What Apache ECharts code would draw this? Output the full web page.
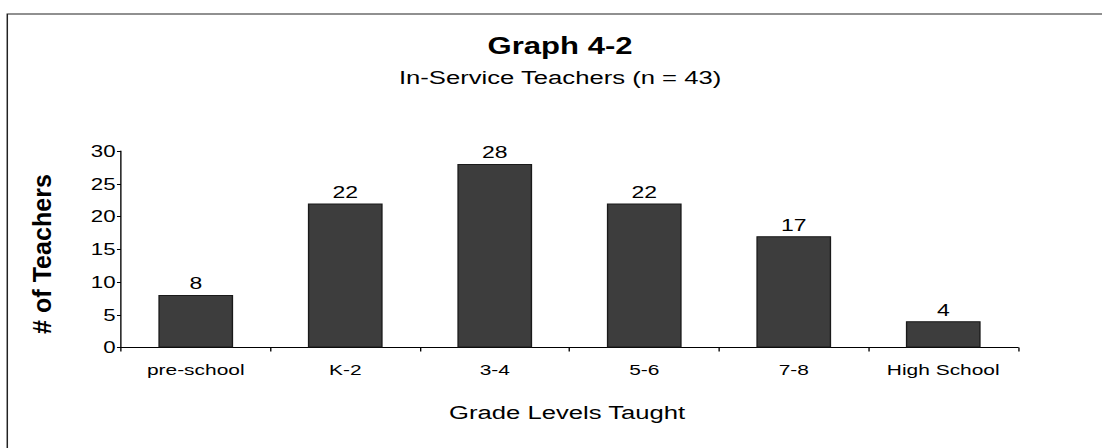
<!DOCTYPE html>
<html>
<head>
<meta charset="utf-8">
<title>Graph 4-2</title>
<script src="https://cdn.jsdelivr.net/npm/echarts@6/dist/echarts.min.js"></script>
<style>
html, body { margin: 0; padding: 0; background: #fff; overflow: hidden; }
/* the scan is stretched sideways, so the chart is drawn narrow and widened */
#graphMain { width: 816px; height: 448px; transform: scaleX(1.3505); transform-origin: 0 0; }
</style>
</head>
<body>
<div id="graphMain"></div>
<script>
// data
var grades = ['pre-school', 'K-2', '3-4', '5-6', '7-8', 'High School'];
var teachers = [8, 22, 28, 22, 17, 4];
var yTicks = [0, 5, 10, 15, 20, 25, 30];

var FONT = '"Liberation Sans", Arial, Helvetica, sans-serif';

function drawGraph(){
	var myChart = echarts.init(document.getElementById('graphMain'), null, {renderer: 'svg'});
	var option = {
		animation: false,
		backgroundColor: '#fff',
		graphic: [
			{
				type: 'rect',
				shape: {x: 5.4, y: 14, width: 900, height: 500},
				style: {fill: 'none', stroke: '#222', lineWidth: 1.1},
				silent: true
			},
			{
				type: 'text',
				x: 414.7, y: 46,
				style: {text: 'Graph 4-2', fill: '#000', font: 'bold 23px ' + FONT,
					align: 'center', verticalAlign: 'middle', textAlign: 'center', textVerticalAlign: 'middle'}
			},
			{
				type: 'text',
				x: 414.7, y: 78,
				style: {text: 'In-Service Teachers (n = 43)', fill: '#000', font: '19px ' + FONT,
					align: 'center', verticalAlign: 'middle', textAlign: 'center', textVerticalAlign: 'middle'}
			},
			{
				type: 'text',
				x: 31.1, y: 254, rotation: Math.PI / 2, scaleX: 1.32,
				style: {text: '# of Teachers', fill: '#000', font: 'bold 19px ' + FONT,
					align: 'center', verticalAlign: 'middle', textAlign: 'center', textVerticalAlign: 'middle'}
			},
			{
				type: 'text',
				x: 419.9, y: 413,
				style: {text: 'Grade Levels Taught', fill: '#000', font: '19px ' + FONT,
					align: 'center', verticalAlign: 'middle', textAlign: 'center', textVerticalAlign: 'middle'}
			}
		],
		grid: {left: 89.6, right: 62.2, top: 151, bottom: 100.5, containLabel: false},
		xAxis: {
			type: 'category',
			data: grades,
			axisLine: {lineStyle: {color: '#000', width: 1.2}},
			axisTick: {show: true, length: 4, lineStyle: {color: '#000'}},
			axisLabel: {interval: 0, margin: 14, color: '#000', fontSize: 15.5, fontFamily: FONT}
		},
		yAxis: {
			type: 'value',
			min: yTicks[0],
			max: yTicks[yTicks.length - 1],
			interval: yTicks[1] - yTicks[0],
			splitLine: {show: false},
			axisLine: {show: true, lineStyle: {color: '#000', width: 1}},
			axisTick: {show: true, length: 3, lineStyle: {color: '#000'}},
			axisLabel: {margin: 4, color: '#000', fontSize: 16.5, fontFamily: FONT}
		},
		series: [
			{
				name: '# of Teachers',
				type: 'bar',
				data: teachers,
				barWidth: '50%',
				itemStyle: {color: '#3d3d3d', borderColor: '#1a1a1a', borderWidth: 1},
				label: {show: true, position: 'top', distance: 3, color: '#000', fontSize: 17, fontFamily: FONT}
			}
		]
	};
	myChart.setOption(option);
}
drawGraph();
</script>
</body>
</html>
